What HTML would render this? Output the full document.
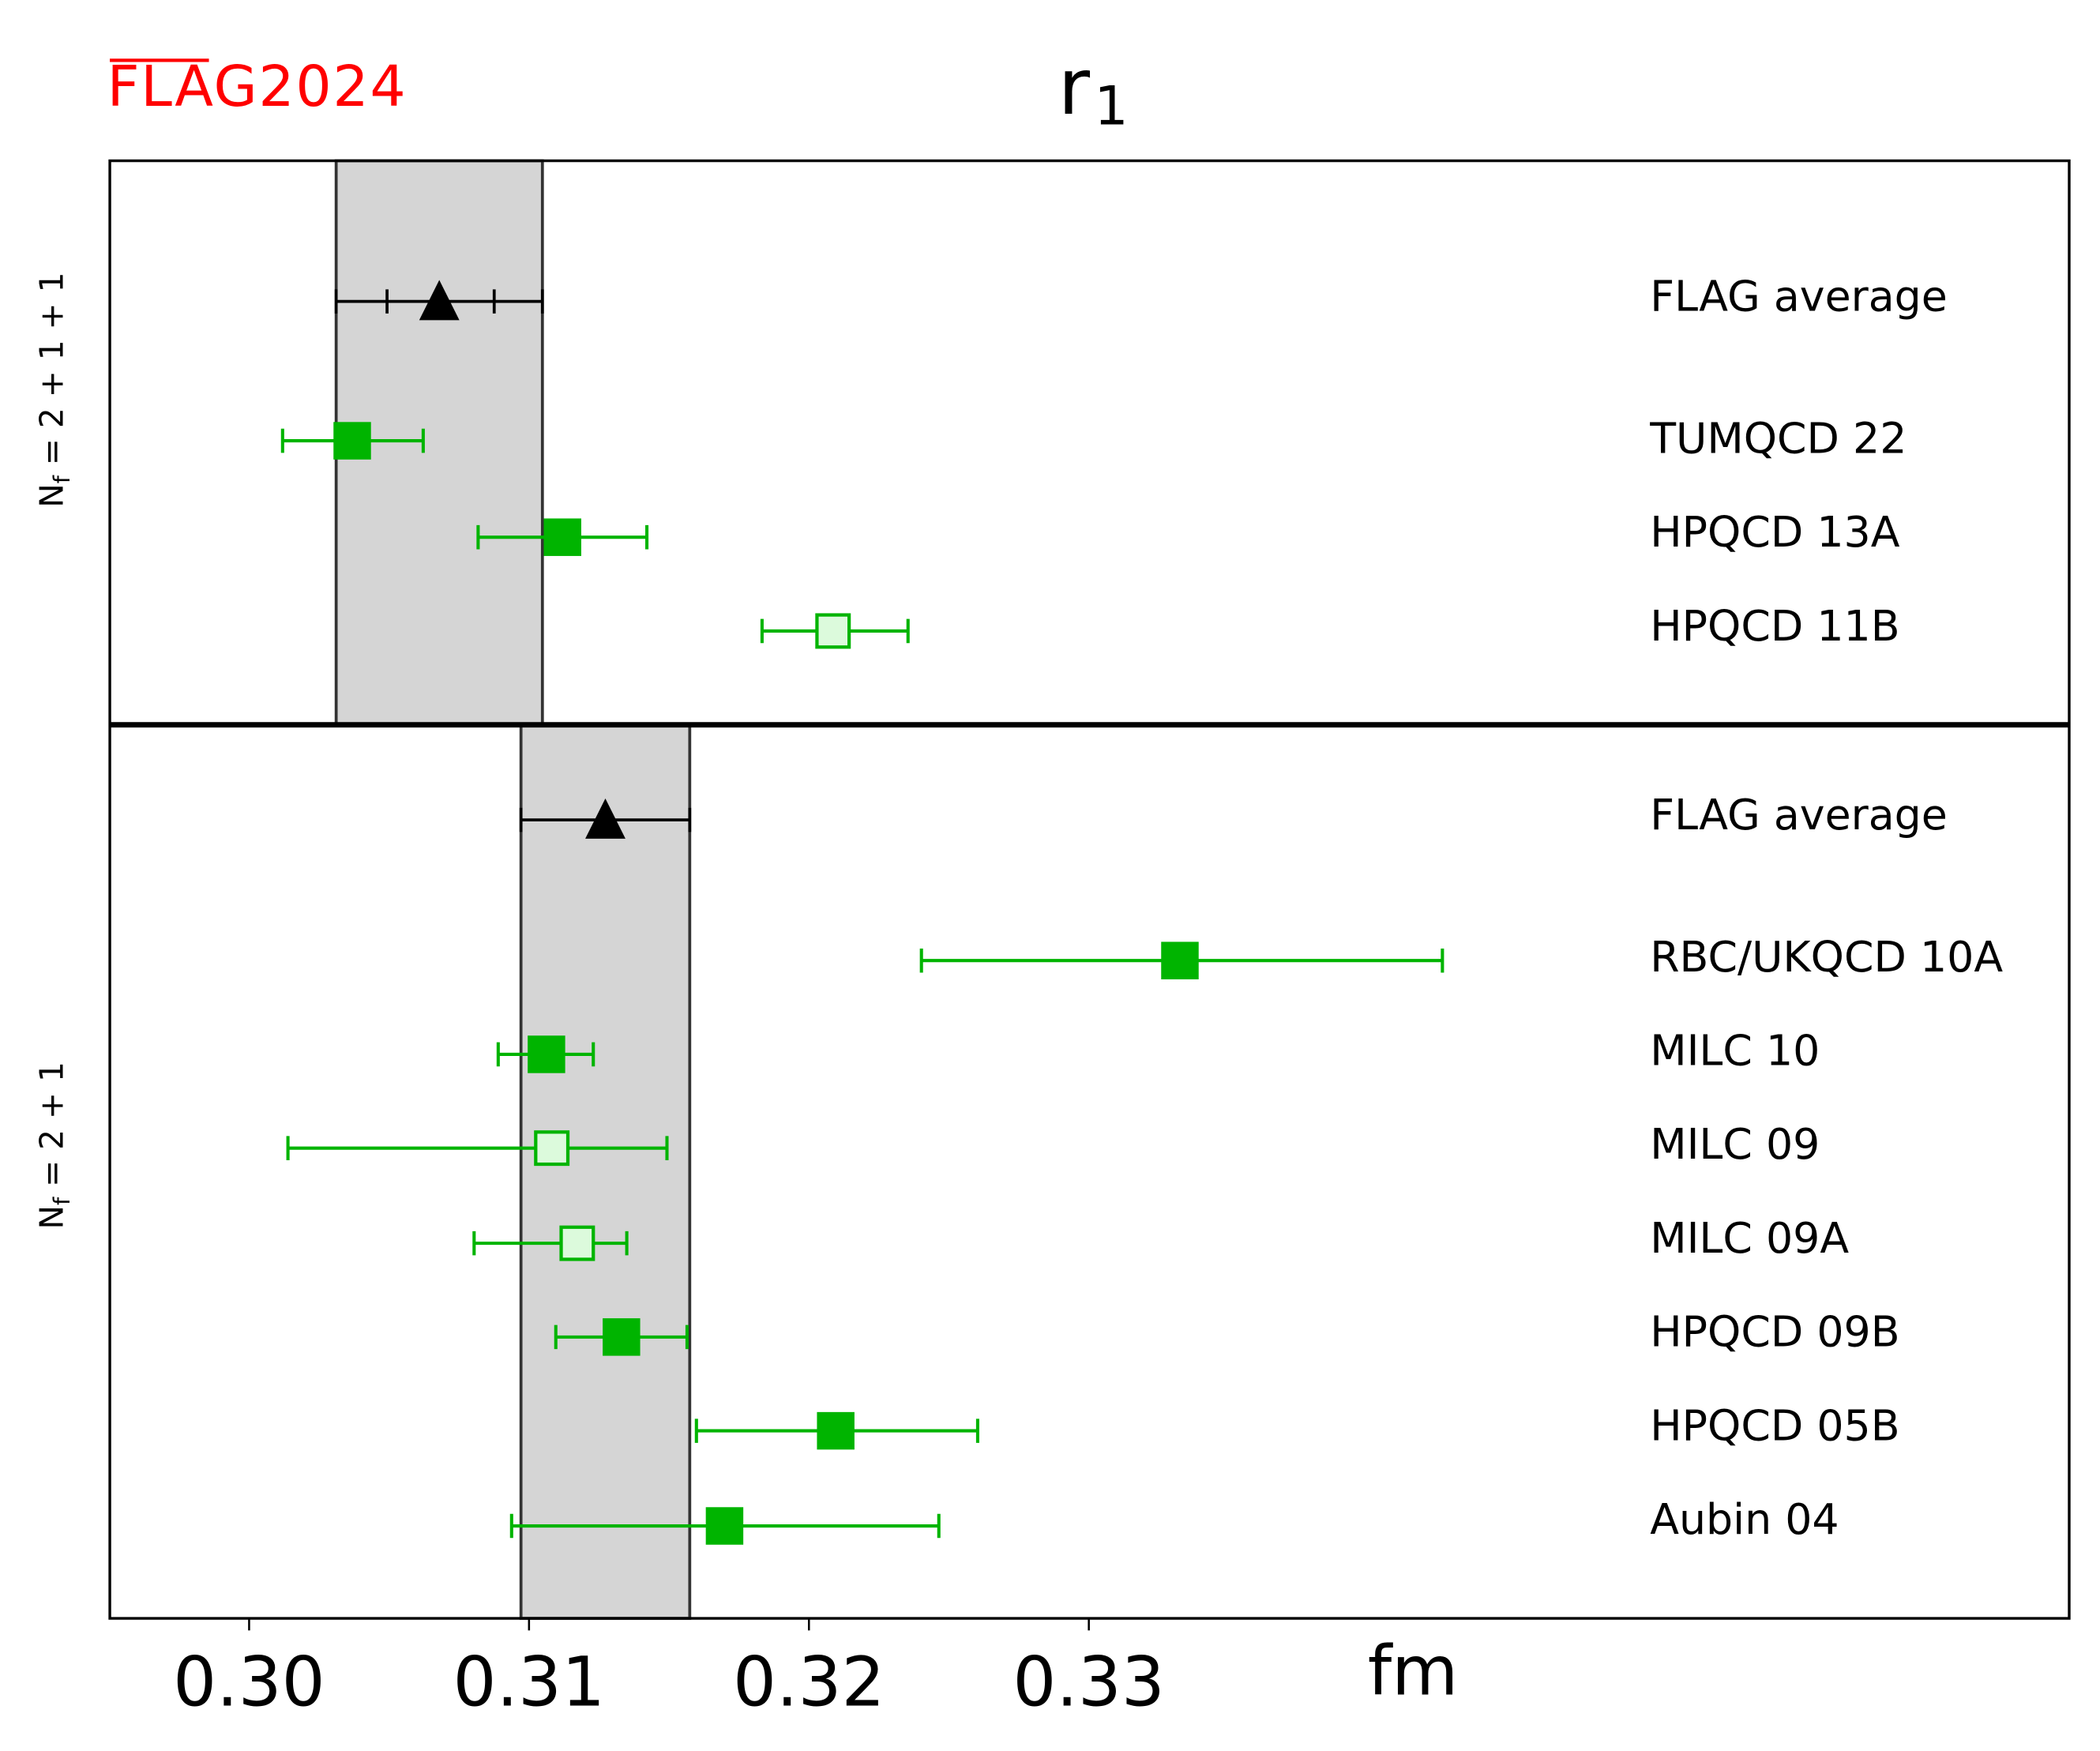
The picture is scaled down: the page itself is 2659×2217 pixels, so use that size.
<!DOCTYPE html>
<html><head><meta charset="utf-8"><style>
html,body{margin:0;padding:0;background:#fff;}
svg{display:block;}
text{font-family:"DejaVu Sans","Liberation Sans",sans-serif;}
</style></head><body>
<svg width="2659" height="2217" viewBox="0 0 1568 1307" preserveAspectRatio="none" xmlns="http://www.w3.org/2000/svg">
<rect width="1568" height="1307" fill="#fff"/>
<rect x="251" y="120" width="154" height="421" fill="#d5d5d5" stroke="#333" stroke-width="2.2"/>
<rect x="389" y="541" width="126" height="667" fill="#d5d5d5" stroke="#333" stroke-width="2.2"/>
<rect x="82" y="120" width="1463" height="1088" fill="none" stroke="#000" stroke-width="2"/>
<line x1="82" y1="541" x2="1545" y2="541" stroke="#000" stroke-width="4"/>
<g stroke="#000" stroke-width="1.5">
<line x1="186" y1="1208" x2="186" y2="1217"/>
<line x1="395" y1="1208" x2="395" y2="1217"/>
<line x1="604" y1="1208" x2="604" y2="1217"/>
<line x1="813" y1="1208" x2="813" y2="1217"/>
</g>
<g font-size="51" text-anchor="middle" fill="#000">
<text x="186" y="1273">0.30</text>
<text x="395" y="1273">0.31</text>
<text x="604" y="1273">0.32</text>
<text x="813" y="1273">0.33</text>
<text x="1055" y="1265">fm</text>
</g>
<text x="790" y="85" font-size="58">r</text><text x="817" y="93" font-size="40">1</text>
<text x="80" y="79" font-size="42" fill="#f00" letter-spacing="1">FLAG2024</text>
<line x1="82" y1="45" x2="156" y2="45" stroke="#f00" stroke-width="2.5"/>
<text transform="translate(47,291) rotate(-90)" font-size="24" text-anchor="middle">N<tspan font-size="17" dy="5">f</tspan><tspan dy="-5"> = 2 + 1 + 1</tspan></text>
<text transform="translate(47,855) rotate(-90)" font-size="24" text-anchor="middle">N<tspan font-size="17" dy="5">f</tspan><tspan dy="-5"> = 2 + 1</tspan></text>
<g font-size="31.7" fill="#000">
<text x="1232" y="232">FLAG average</text>
<text x="1232" y="338">TUMQCD 22</text>
<text x="1232" y="408">HPQCD 13A</text>
<text x="1232" y="478">HPQCD 11B</text>
<text x="1232" y="619">FLAG average</text>
<text x="1232" y="725">RBC/UKQCD 10A</text>
<text x="1232" y="795">MILC 10</text>
<text x="1232" y="865">MILC 09</text>
<text x="1232" y="935">MILC 09A</text>
<text x="1232" y="1005">HPQCD 09B</text>
<text x="1232" y="1075">HPQCD 05B</text>
<text x="1232" y="1145">Aubin 04</text>
</g>
<g stroke="#000" stroke-width="2.2">
<line x1="251" y1="225" x2="405" y2="225"/><line x1="251" y1="216" x2="251" y2="234"/><line x1="405" y1="216" x2="405" y2="234"/>
<line x1="289" y1="216" x2="289" y2="234"/><line x1="369" y1="216" x2="369" y2="234"/>
<line x1="389" y1="612" x2="515" y2="612"/><line x1="389" y1="603" x2="389" y2="621"/><line x1="515" y1="603" x2="515" y2="621"/>
</g>
<polygon points="328,209 313,239 343,239" fill="#000"/>
<polygon points="452,596 437,626 467,626" fill="#000"/>
<g stroke="#00b400" stroke-width="2.4" fill="none">
<path d="M211 329H316M211 320V338M316 320V338"/>
<path d="M357 401H483M357 392V410M483 392V410"/>
<path d="M569 471H678M569 462V480M678 462V480"/>
<path d="M688 717H1077M688 708V726M1077 708V726"/>
<path d="M372 787H443M372 778V796M443 778V796"/>
<path d="M215 857H498M215 848V866M498 848V866"/>
<path d="M354 928H468M354 919V937M468 919V937"/>
<path d="M415 998H513M415 989V1007M513 989V1007"/>
<path d="M520 1068H730M520 1059V1077M730 1059V1077"/>
<path d="M382 1139H701M382 1130V1148M701 1130V1148"/>
</g>
<g fill="#00b400">
<rect x="249" y="315" width="28" height="28"/>
<rect x="406" y="387" width="28" height="28"/>
<rect x="867" y="703" width="28" height="28"/>
<rect x="394" y="773" width="28" height="28"/>
<rect x="450" y="984" width="28" height="28"/>
<rect x="610" y="1054" width="28" height="28"/>
<rect x="527" y="1125" width="28" height="28"/>
</g>
<g fill="#dcfadc" stroke="#00b400" stroke-width="2.5">
<rect x="610" y="459" width="24" height="24"/>
<rect x="400" y="845" width="24" height="24"/>
<rect x="419" y="916" width="24" height="24"/>
</g>
</svg>
</body></html>
